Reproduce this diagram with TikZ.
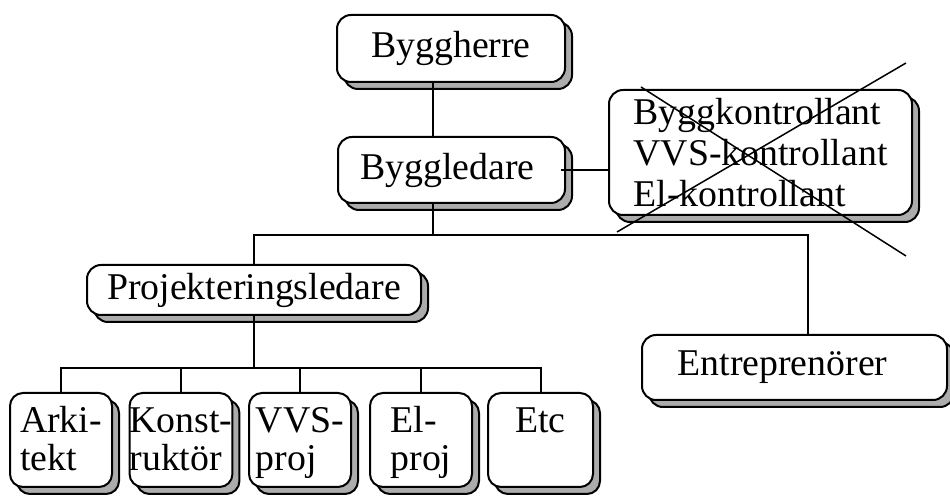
\documentclass[tikz,border=0pt]{standalone}
\usepackage{fontspec}
\setmainfont{Liberation Serif}
\usetikzlibrary{shadows}

\newcommand{\projstrut}{\rule{0pt}{17pt}}

\begin{document}
\begin{tikzpicture}[x=0.5pt,y=-0.5pt,
	font=\fontsize{18.9pt}{20.5pt}\selectfont,
	box/.style={draw,line width=1pt,fill=white,rounded corners=7pt,inner sep=0pt,
		general shadow={shadow xshift=3.5pt,shadow yshift=-3.5pt,fill=gray!65,draw=black,line width=1pt}},
	projbox/.style={box,rounded corners=6.5pt,minimum width=51pt,minimum height=47pt,align=left,
		font=\fontsize{18.9pt}{19pt}\selectfont},
	conn/.style={line width=1pt}]
	\useasboundingbox (0,0) rectangle (950,497);

	%ledning
	\node[box,minimum width=114pt,minimum height=33.5pt] (herre) at (451,48.5) {Byggherre};
	\node[box,minimum width=113.5pt,minimum height=33pt] (ledare) at (451.5,170) {Byggledare\hspace*{4pt}};
	\node[box,minimum width=151.5pt,minimum height=62.5pt,align=left] (kontroll) at (760.5,152.5)
	{Byggkontrollant\\VVS-kontrollant\\El-kontrollant};

	%mellannivå
	\node[box,minimum width=167pt,minimum height=25pt] (projled) at (254,290) {Projekteringsledare};
	\node[box,minimum width=152.5pt,minimum height=32.5pt] (entr) at (794.5,367.5) {Entreprenörer\hspace*{12pt}};

	%projektörer
	\node[projbox] (ark) at (61,440) {\projstrut Arki-\\\strut tekt};
	\node[projbox] (konst) at (181,440) {\projstrut Konst-\\\strut ruktör};
	\node[projbox] (vvs) at (300,440) {\projstrut VVS-\\\strut proj};
	\node[projbox] (el) at (421,440) {\projstrut El-\\\strut proj};
	\node[projbox,minimum width=52.5pt,align=center] (etc) at (540.5,440) {\projstrut Etc\\\strut};

	\coordinate (split) at (433,235);
	\coordinate (entrdrop) at (808,235);
	\coordinate (bus) at (254,368);

	%linjer
	\draw[conn] (herre.south -| split) -- (ledare.north -| split);
	\draw[conn] (ledare.south -| split) -- (split);
	\draw[conn] (projled.north) |- (entrdrop) -- (entrdrop |- entr.north);
	\draw[conn] ([xshift=-2.5pt]ledare.east) -- (ledare.east -| kontroll.west);
	\draw[conn] (projled.south) -- (bus);
	\draw[conn] (ark.north) |- (bus) -| (etc.north);
	\foreach \n in {konst,vvs,el}
		\draw[conn] (\n.north) -- (\n.north |- bus);

	%överstruket
	\coordinate (cross1) at (641,87);
	\coordinate (cross2) at (906,256);
	\coordinate (cross3) at (617,232);
	\coordinate (cross4) at (906,63);
	\draw[line width=0.75pt] (cross1) -- (cross2);
	\draw[line width=0.75pt] (cross3) -- (cross4);

\end{tikzpicture}
\end{document}
